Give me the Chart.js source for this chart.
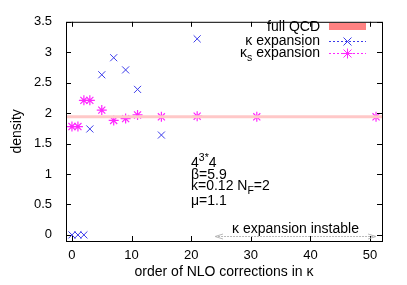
<!DOCTYPE html>
<html>
<head>
<meta charset="utf-8">
<script src="https://cdn.jsdelivr.net/npm/chart.js@4.4.1/dist/chart.umd.min.js"></script>
<style>
  html, body { margin: 0; padding: 0; background: #fff; }
  #wrap { width: 407px; height: 285px; }
</style>
</head>
<body>
<div id="wrap"><canvas id="c" width="407" height="285"></canvas></div>
<script>
// data
const kappaX = [0, 1, 2, 3, 5, 7, 9, 11, 15, 21];
const kappaY = [0, 0, 0, 1.74, 2.63, 2.91, 2.71, 2.39, 1.64, 3.22];
const kappaSX = [0, 1, 2, 3, 5, 7, 9, 11, 15, 21, 31, 51];
const kappaSY = [1.78, 1.78, 2.21, 2.21, 2.05, 1.88, 1.91, 1.97, 1.94, 1.95, 1.94, 1.94];
const fullQCD = 1.94;
const xRange = [-1, 52];
const yRange = [-0.1, 3.5];
const xTicks = [0, 10, 20, 30, 40, 50];
const yTicks = [0, 0.5, 1, 1.5, 2, 2.5, 3, 3.5];
const instableFrom = 24, instableTo = 51;

const FONT = "'Liberation Sans', Arial, sans-serif";
const BLUE = "rgb(60,60,235)";
const MAGENTA = "rgb(255,40,255)";

// draw text with sub/superscripts: parts = [[text, "sup"|"sub"|null], ...]
function richText(ctx, parts, x, y, size, align) {
  ctx.textAlign = "left";
  ctx.textBaseline = "alphabetic";
  const w = parts.reduce((s, p) => {
    ctx.font = (p[1] ? size * 0.75 : size) + "px " + FONT;
    return s + ctx.measureText(p[0]).width;
  }, 0);
  let cx = align === "right" ? x - w : x;
  parts.forEach(p => {
    ctx.font = (p[1] ? size * 0.75 : size) + "px " + FONT;
    const dy = p[1] === "sup" ? -size * 0.4 : p[1] === "sub" ? size * 0.3 : 0;
    ctx.fillText(p[0], cx, y + dy);
    cx += ctx.measureText(p[0]).width;
  });
}

const decor = {
  id: "decor",
  afterDatasetsDraw(chart) {
    const ctx = chart.ctx;
    const a = chart.chartArea;
    const xs = chart.scales.x, ys = chart.scales.y;
    ctx.save();
    // frame
    ctx.strokeStyle = "#000";
    ctx.lineWidth = 1;
    ctx.strokeRect(a.left + 0.5, a.top + 0.5, a.right - a.left, a.bottom - a.top);
    // inward ticks on all sides
    ctx.beginPath();
    xTicks.forEach(v => {
      const px = Math.round(xs.getPixelForValue(v)) + 0.5;
      ctx.moveTo(px, a.bottom); ctx.lineTo(px, a.bottom - 5);
      ctx.moveTo(px, a.top); ctx.lineTo(px, a.top + 5);
    });
    yTicks.forEach(v => {
      const py = Math.round(ys.getPixelForValue(v)) + 0.5;
      ctx.moveTo(a.left, py); ctx.lineTo(a.left + 5, py);
      ctx.moveTo(a.right, py); ctx.lineTo(a.right - 5, py);
    });
    ctx.stroke();

    // legend
    ctx.fillStyle = "#000";
    const lx1 = 329, lx2 = 366, tEnd = 320;
    richText(ctx, [["full QCD", null]], tEnd, 31, 14, "right");
    richText(ctx, [["κ expansion", null]], tEnd, 45, 14, "right");
    richText(ctx, [["κ", null], ["s", "sub"], [" expansion", null]], tEnd, 57, 14, "right");
    ctx.fillStyle = "rgb(255,130,130)";
    ctx.fillRect(lx1, 23, lx2 - lx1, 7);
    ctx.setLineDash([2, 2]);
    ctx.strokeStyle = BLUE;
    ctx.beginPath(); ctx.moveTo(lx1, 41.5); ctx.lineTo(lx2, 41.5); ctx.stroke();
    ctx.strokeStyle = MAGENTA;
    ctx.beginPath(); ctx.moveTo(lx1, 53.5); ctx.lineTo(lx2, 53.5); ctx.stroke();
    ctx.setLineDash([]);
    const mx = (lx1 + lx2) / 2;
    ctx.strokeStyle = BLUE;
    ctx.beginPath();
    ctx.moveTo(mx - 4, 37.5); ctx.lineTo(mx + 4, 45.5);
    ctx.moveTo(mx + 4, 37.5); ctx.lineTo(mx - 4, 45.5);
    ctx.stroke();
    ctx.strokeStyle = MAGENTA;
    ctx.beginPath();
    ctx.moveTo(mx - 4, 49.5); ctx.lineTo(mx + 4, 57.5);
    ctx.moveTo(mx + 4, 49.5); ctx.lineTo(mx - 4, 57.5);
    ctx.moveTo(mx - 5, 53.5); ctx.lineTo(mx + 5, 53.5);
    ctx.moveTo(mx, 48.5); ctx.lineTo(mx, 58.5);
    ctx.stroke();

    // parameter block
    ctx.fillStyle = "#000";
    const tx = 191;
    richText(ctx, [["4", null], ["3*", "sup"], ["4", null]], tx, 167, 14, "left");
    richText(ctx, [["β=5.9", null]], tx, 179, 14, "left");
    richText(ctx, [["κ=0.12 N", null], ["F", "sub"], ["=2", null]], tx, 190, 14, "left");
    richText(ctx, [["μ=1.1", null]], tx, 205, 14, "left");

    // instable arrow
    const ax1 = xs.getPixelForValue(instableFrom), ax2 = xs.getPixelForValue(instableTo);
    const ay = 236.5;
    ctx.strokeStyle = "rgb(185,185,185)";
    ctx.setLineDash([2, 1]);
    ctx.beginPath(); ctx.moveTo(ax1, ay); ctx.lineTo(ax2, ay); ctx.stroke();
    ctx.setLineDash([]);
    ctx.beginPath();
    ctx.moveTo(ax1 + 8, ay - 2.5); ctx.lineTo(ax1, ay); ctx.lineTo(ax1 + 8, ay + 2.5);
    ctx.moveTo(ax2 - 8, ay - 2.5); ctx.lineTo(ax2, ay); ctx.lineTo(ax2 - 8, ay + 2.5);
    ctx.stroke();
    ctx.fillStyle = "#000";
    ctx.font = "14px " + FONT;
    ctx.textAlign = "center";
    ctx.textBaseline = "alphabetic";
    ctx.fillText("κ expansion instable", (ax1 + ax2) / 2, 233);
    ctx.restore();
  }
};

const tickFont = { family: FONT, size: 13 };
const titleFont = { family: FONT, size: 14 };

new Chart(document.getElementById("c"), {
  type: "scatter",
  data: {
    datasets: [
      {
        label: "full QCD",
        type: "line",
        data: xRange.map(x => ({ x: x, y: fullQCD })),
        borderColor: "rgb(255,200,200)",
        borderWidth: 3,
        pointRadius: 0
      },
      {
        label: "κ expansion",
        data: kappaX.map((x, i) => ({ x: x, y: kappaY[i] })),
        pointStyle: "crossRot",
        pointRadius: 5,
        borderColor: BLUE,
        borderWidth: 1
      },
      {
        label: "κs expansion",
        data: kappaSX.map((x, i) => ({ x: x, y: kappaSY[i] })),
        pointStyle: "star",
        pointRadius: 5,
        borderColor: MAGENTA,
        borderWidth: 1.2
      }
    ]
  },
  options: {
    responsive: false,
    animation: false,
    layout: { padding: { left: 0, right: 25, top: 16, bottom: 0 } },
    plugins: { legend: { display: false }, tooltip: { enabled: false } },
    scales: {
      x: {
        type: "linear",
        min: xRange[0], max: xRange[1],
        afterFit(s) { s.height = 44; },
        afterBuildTicks(s) { s.ticks = xTicks.map(v => ({ value: v })); },
        grid: { display: false, drawTicks: false },
        border: { display: false },
        ticks: { font: tickFont, color: "#000", padding: 7, maxRotation: 0, callback: v => String(v) },
        title: { display: true, text: "order of NLO corrections in κ", font: titleFont, color: "#000", padding: { top: 0, bottom: 4 } }
      },
      y: {
        min: yRange[0], max: yRange[1],
        afterFit(s) { s.width = 66; },
        afterBuildTicks(s) { s.ticks = yTicks.map(v => ({ value: v })); },
        grid: { display: false, drawTicks: false },
        border: { display: false },
        ticks: { font: tickFont, color: "#000", padding: 14, callback: v => String(v) },
        title: { display: true, text: "density", font: titleFont, color: "#000", padding: { top: 9, bottom: 0 } }
      }
    }
  },
  plugins: [decor]
});
</script>
</body>
</html>
